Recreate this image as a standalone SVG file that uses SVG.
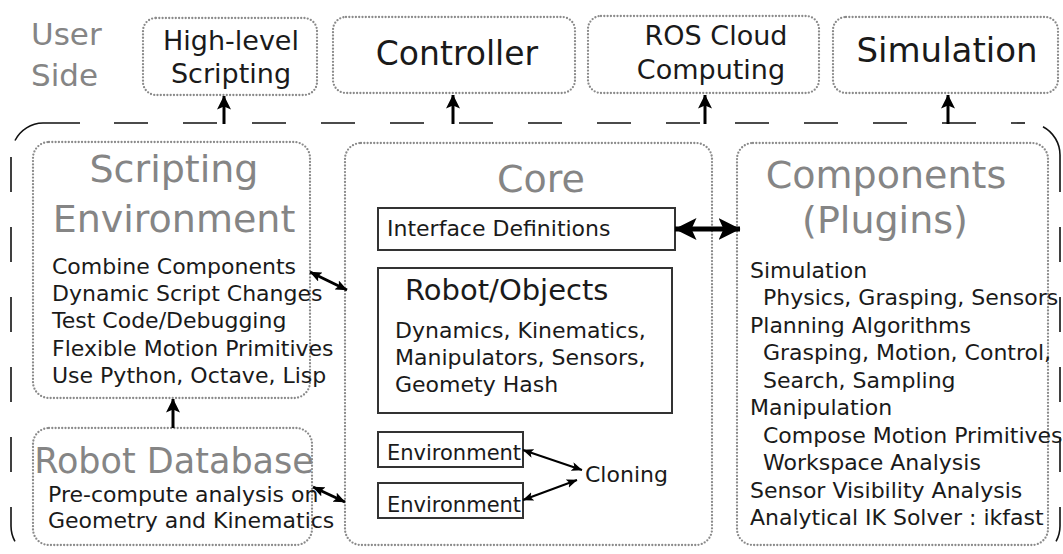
<svg xmlns="http://www.w3.org/2000/svg" width="1063" height="554" viewBox="0 0 1063 554">
<style>
text{font-family:"DejaVu Sans","Liberation Sans",sans-serif;fill:#1a1a1a}
.g{fill:#858585}
.dot{fill:none;stroke:#8a8a8a;stroke-width:2.3;stroke-linecap:round;stroke-dasharray:0 3.3}
.box{fill:#fff;stroke:#333;stroke-width:2}
.t22{font-size:22px}
.big{font-size:38px}
.ar{stroke:#000;fill:none}
.bd{fill:none;stroke:#111;stroke-width:1.6}
.bdd{stroke-dasharray:35 35}
</style>
<defs>
<marker id="mBig" markerUnits="userSpaceOnUse" viewBox="0 0 14 14" refX="13.5" refY="7" markerWidth="14" markerHeight="14" orient="auto-start-reverse">
<path d="M0,0 L14,7 L0,14 L3,7 z" fill="#000"/>
</marker>
<marker id="mMid" markerUnits="userSpaceOnUse" viewBox="0 0 12 10" refX="11.5" refY="5" markerWidth="12" markerHeight="10" orient="auto-start-reverse">
<path d="M0,0 L12,5 L0,10 L2.5,5 z" fill="#000"/>
</marker>
<marker id="mThick" markerUnits="userSpaceOnUse" viewBox="0 0 22 22" refX="21.5" refY="11" markerWidth="22" markerHeight="22" orient="auto-start-reverse">
<path d="M0,0 L22,11 L0,22 L5,11 z" fill="#000"/>
</marker>
<marker id="mSmall" markerUnits="userSpaceOnUse" viewBox="0 0 11 9" refX="10.5" refY="4.5" markerWidth="11" markerHeight="9" orient="auto-start-reverse">
<path d="M0,0 L11,4.5 L0,9 L2.5,4.5 z" fill="#000"/>
</marker>
</defs>
<rect width="1063" height="554" fill="#fff"/>

<g id="user-side">
<text class="g" x="31" y="45" font-size="31">User</text>
<text class="g" x="31" y="86" font-size="31">Side</text>
</g>

<g id="boundary">
<path class="bd" d="M15,140.5 A32,32 0 0 1 43,123 H80"/>
<path class="bd" d="M114,123 H1025" stroke-dasharray="34 35"/>
<path class="bd" d="M1043,126.7 A32,32 0 0 1 1060,155 V192"/>
<path class="bd bdd" d="M1060,227 V526 A32,32 0 0 1 1028,558"/>
<path class="bd bdd" d="M11,157 V526 A32,32 0 0 0 43,558"/>
</g>

<g id="high-level-scripting">
<rect class="dot" x="143" y="18" width="174" height="77" rx="13"/>
<text x="231" y="50" font-size="27" text-anchor="middle">High-level</text>
<text x="231" y="83" font-size="27" text-anchor="middle">Scripting</text>
</g>

<g id="controller">
<rect class="dot" x="333" y="17" width="242" height="76" rx="13"/>
<text x="457" y="65" font-size="33" text-anchor="middle">Controller</text>
</g>

<g id="ros-cloud">
<rect class="dot" x="588" y="16" width="231" height="77" rx="13"/>
<text x="716" y="45" font-size="27" text-anchor="middle">ROS Cloud</text>
<text x="711" y="79" font-size="27" text-anchor="middle">Computing</text>
</g>

<g id="simulation">
<rect class="dot" x="833" y="17" width="225" height="76" rx="13"/>
<text x="947" y="62" font-size="34" text-anchor="middle">Simulation</text>
</g>

<g id="scripting-environment">
<rect class="dot" x="33" y="142" width="277" height="256" rx="16"/>
<text class="g big" x="174" y="182" text-anchor="middle">Scripting</text>
<text class="g big" x="174" y="232" text-anchor="middle">Environment</text>
<text class="t22" x="52" y="274">Combine Components</text>
<text class="t22" x="52" y="301">Dynamic Script Changes</text>
<text class="t22" x="52" y="328">Test Code/Debugging</text>
<text class="t22" x="52" y="356">Flexible Motion Primitives</text>
<text class="t22" x="52" y="383">Use Python, Octave, Lisp</text>
</g>

<g id="robot-database">
<rect class="dot" x="33" y="428" width="279" height="117" rx="16"/>
<text class="g" x="174" y="473" font-size="35" text-anchor="middle">Robot Database</text>
<text class="t22" x="48" y="502">Pre-compute analysis on</text>
<text class="t22" x="48" y="528">Geometry and Kinematics</text>
</g>

<g id="core">
<rect class="dot" x="345" y="143" width="367" height="402" rx="16"/>
<text class="g big" x="541" y="192" text-anchor="middle">Core</text>
</g>

<g id="interface-definitions">
<rect class="box" x="378" y="208" width="297" height="42"/>
<text class="t22" x="387" y="236">Interface Definitions</text>
</g>

<g id="robot-objects">
<rect class="box" x="378" y="268" width="294" height="145"/>
<text x="405" y="300" font-size="29">Robot/Objects</text>
<text class="t22" x="395" y="338">Dynamics, Kinematics,</text>
<text class="t22" x="395" y="365">Manipulators, Sensors,</text>
<text class="t22" x="395" y="392">Geomety Hash</text>
</g>

<g id="environment-1">
<rect class="box" x="378" y="432" width="145" height="35"/>
<text x="387" y="460" font-size="21">Environment</text>
</g>

<g id="environment-2">
<rect class="box" x="378" y="483" width="145" height="35"/>
<text x="387" y="512" font-size="21">Environment</text>
</g>

<g id="cloning">
<text class="t22" x="585" y="482">Cloning</text>
</g>

<g id="components">
<rect class="dot" x="737" y="143" width="311" height="402" rx="16"/>
<text class="g big" x="886" y="188" text-anchor="middle">Components</text>
<text class="g big" x="885" y="233" text-anchor="middle">(Plugins)</text>
<text class="t22" x="750" y="278">Simulation</text>
<text class="t22" x="763" y="305">Physics, Grasping, Sensors</text>
<text class="t22" x="750" y="333">Planning Algorithms</text>
<text class="t22" x="763" y="360">Grasping, Motion, Control,</text>
<text class="t22" x="763" y="388">Search, Sampling</text>
<text class="t22" x="750" y="415">Manipulation</text>
<text class="t22" x="763" y="443">Compose Motion Primitives</text>
<text class="t22" x="763" y="470">Workspace Analysis</text>
<text class="t22" x="750" y="498">Sensor Visibility Analysis</text>
<text class="t22" x="750" y="525">Analytical IK Solver : ikfast</text>
</g>

<g id="connectors">
<line class="ar" x1="224" y1="124" x2="224" y2="96" stroke-width="3" marker-end="url(#mBig)"/>
<line class="ar" x1="453" y1="124" x2="453" y2="95" stroke-width="3" marker-end="url(#mBig)"/>
<line class="ar" x1="705" y1="124" x2="705" y2="95" stroke-width="3" marker-end="url(#mBig)"/>
<line class="ar" x1="948" y1="124" x2="948" y2="95" stroke-width="3" marker-end="url(#mBig)"/>
<line class="ar" x1="173" y1="428" x2="173" y2="399" stroke-width="3" marker-end="url(#mBig)"/>
<line class="ar" x1="310" y1="272" x2="347" y2="290" stroke-width="3" marker-start="url(#mMid)" marker-end="url(#mMid)"/>
<line class="ar" x1="313" y1="487" x2="345" y2="502" stroke-width="3" marker-start="url(#mMid)" marker-end="url(#mMid)"/>
<line class="ar" x1="675" y1="229" x2="740" y2="229" stroke-width="5" marker-start="url(#mThick)" marker-end="url(#mThick)"/>
<line class="ar" x1="523" y1="450" x2="582" y2="470" stroke-width="2" marker-start="url(#mSmall)" marker-end="url(#mSmall)"/>
<line class="ar" x1="523" y1="500" x2="577" y2="480" stroke-width="2" marker-start="url(#mSmall)" marker-end="url(#mSmall)"/>
</g>
</svg>
